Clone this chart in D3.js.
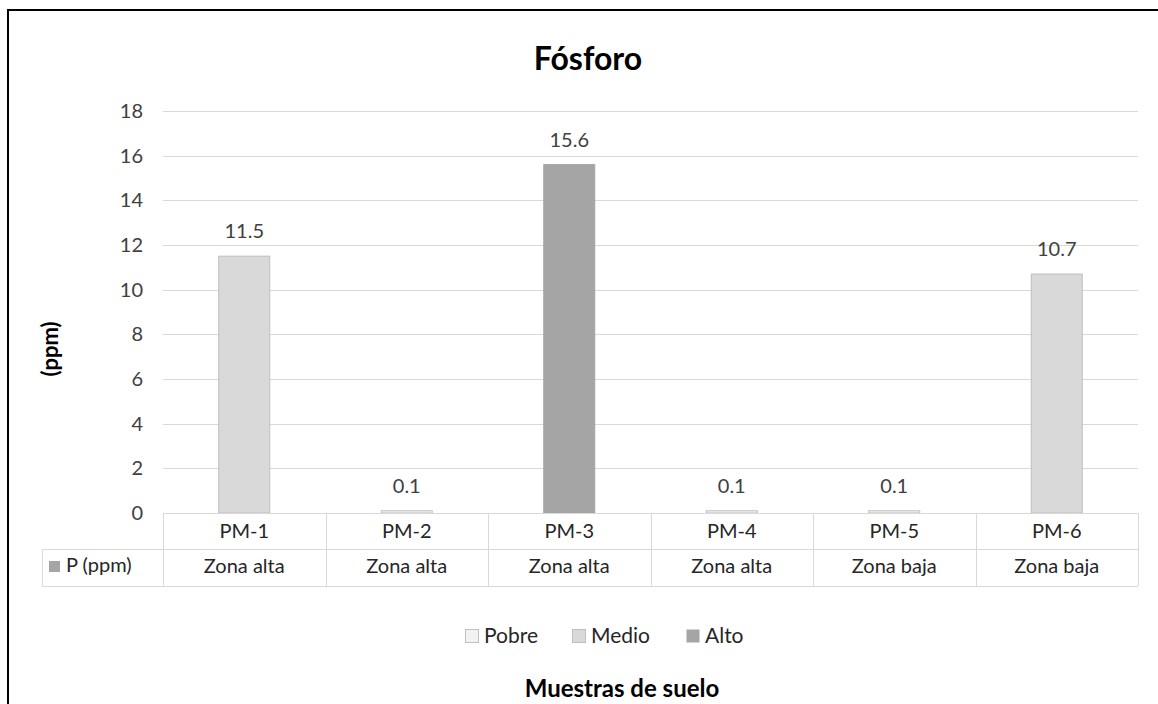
<!DOCTYPE html>
<html>
<head>
<meta charset="utf-8">
<script src="https://cdn.jsdelivr.net/npm/d3@7"></script>
<style>
  html, body { margin: 0; padding: 0; background: #fff; }
  svg { display: block; font-family: Lato, "Open Sans", "Noto Sans", sans-serif; }
</style>
</head>
<body>
<svg id="chart" width="1158" height="704"></svg>
<script>
// Phosphorus content per soil sample
const samples = ["PM-1", "PM-2", "PM-3", "PM-4", "PM-5", "PM-6"];
const zones = ["Zona alta", "Zona alta", "Zona alta", "Zona alta", "Zona baja", "Zona baja"];
const phosphorus = [11.5, 0.1, 15.6, 0.1, 0.1, 10.7];
const levels = ["Medio", "Pobre", "Alto", "Pobre", "Pobre", "Medio"];
const levelNames = ["Pobre", "Medio", "Alto"];
const yTicks = [0, 2, 4, 6, 8, 10, 12, 14, 16, 18];

const fills = { Pobre: "#f2f2f2", Medio: "#d9d9d9", Alto: "#a5a5a5" };
const strokes = { Pobre: "#bfbfbf", Medio: "#bfbfbf", Alto: "#a5a5a5" };
const textSize = 20;

const svg = d3.select("#chart");

// outer frame (top and left edges visible)
svg.append("path")
  .attr("d", "M8,1000 L8,10 L1200,10")
  .attr("fill", "none").attr("stroke", "#000").attr("stroke-width", 2);

const plot = { left: 163, right: 1138, top: 111, bottom: 513 };

const x = d3.scaleBand().domain(samples).range([plot.left, plot.right]).padding(0);
const y = d3.scaleLinear().domain([0, 18]).range([plot.bottom, plot.top]);

// horizontal gridlines
svg.append("g").selectAll("line").data(yTicks.filter(t => t > 0)).join("line")
  .attr("x1", plot.left).attr("x2", plot.right)
  .attr("y1", d => Math.round(y(d)) + 0.5).attr("y2", d => Math.round(y(d)) + 0.5)
  .attr("stroke", "#d9d9d9").attr("stroke-width", 1);

// y axis labels
const yAxis = svg.append("g").attr("transform", `translate(${plot.left - 20},0)`)
  .call(d3.axisLeft(y).tickValues(yTicks).tickSize(0).tickPadding(0));
yAxis.select(".domain").remove();
yAxis.selectAll("text")
  .attr("font-family", "Lato, 'Open Sans', sans-serif")
  .attr("font-size", textSize).attr("fill", "#404040");

// bars
const barW = x.bandwidth() * 0.32;
const data = samples.map((s, i) => ({ s, v: phosphorus[i], lvl: levels[i] }));
svg.append("g").selectAll("rect").data(data).join("rect")
  .attr("x", d => x(d.s) + (x.bandwidth() - barW) / 2 + 0.5)
  .attr("y", d => y(d.v))
  .attr("width", barW - 1)
  .attr("height", d => y(0) - y(d.v))
  .attr("fill", d => fills[d.lvl])
  .attr("stroke", d => strokes[d.lvl]).attr("stroke-width", 1);

// value labels
svg.append("g").selectAll("text").data(data).join("text")
  .attr("x", d => x(d.s) + x.bandwidth() / 2)
  .attr("y", d => y(d.v) - 18)
  .attr("text-anchor", "middle")
  .attr("font-size", textSize).attr("fill", "#404040")
  .text(d => d3.format(".1f")(d.v));

// data table below the axis
const rowH = 36;
const tableLeft = 42;
const tg = svg.append("g").attr("stroke", "#d9d9d9").attr("stroke-width", 1);
const rows = [plot.bottom, plot.bottom + rowH, plot.bottom + 2 * rowH + 1];
tg.append("line").attr("x1", plot.left).attr("x2", plot.right).attr("y1", rows[0] + 0.5).attr("y2", rows[0] + 0.5);
tg.append("line").attr("x1", tableLeft).attr("x2", plot.right).attr("y1", rows[1] + 0.5).attr("y2", rows[1] + 0.5);
tg.append("line").attr("x1", tableLeft).attr("x2", plot.right).attr("y1", rows[2] + 0.5).attr("y2", rows[2] + 0.5);
tg.selectAll("line.v").data(samples.concat(["end"])).join("line").attr("class", "v")
  .attr("x1", (d, i) => Math.round(plot.left + i * x.bandwidth()) + 0.5)
  .attr("x2", (d, i) => Math.round(plot.left + i * x.bandwidth()) + 0.5)
  .attr("y1", rows[0]).attr("y2", rows[2]);
tg.append("line").attr("x1", tableLeft + 0.5).attr("x2", tableLeft + 0.5).attr("y1", rows[1]).attr("y2", rows[2]);

svg.append("g").selectAll("text").data(samples).join("text")
  .attr("x", d => x(d) + x.bandwidth() / 2)
  .attr("y", rows[0] + 25)
  .attr("text-anchor", "middle").attr("font-size", textSize).attr("fill", "#262626")
  .text(d => d);

svg.append("g").selectAll("text").data(zones).join("text")
  .attr("x", (d, i) => x(samples[i]) + x.bandwidth() / 2)
  .attr("y", rows[1] + 24)
  .attr("text-anchor", "middle").attr("font-size", textSize).attr("fill", "#262626")
  .text(d => d);

// series key in the table
svg.append("rect").attr("x", 49).attr("y", rows[1] + 12).attr("width", 11).attr("height", 11).attr("fill", "#a5a5a5");
svg.append("text").attr("x", 66).attr("y", rows[1] + 23)
  .attr("font-size", textSize).attr("fill", "#262626").text("P (ppm)");

// legend
const legendX = [465, 572, 686];
const lg = svg.append("g").selectAll("g").data(levelNames).join("g")
  .attr("transform", (d, i) => `translate(${legendX[i]},629)`);
lg.append("rect").attr("x", 0.5).attr("y", 0.5).attr("width", 13).attr("height", 13)
  .attr("fill", d => fills[d]).attr("stroke", d => d === "Alto" ? "none" : "#bfbfbf");
lg.append("text").attr("x", 19).attr("y", 14)
  .attr("font-size", 21).attr("fill", "#262626").text(d => d);

// titles
svg.append("text").attr("x", 588).attr("y", 70)
  .attr("text-anchor", "middle").attr("font-size", 32).attr("font-weight", "bold")
  .attr("fill", "#000").text("Fósforo");

svg.append("text").attr("transform", "translate(58,349) rotate(-90)")
  .attr("text-anchor", "middle").attr("font-size", 22).attr("font-weight", "bold")
  .attr("fill", "#000").text("(ppm)");

svg.append("text").attr("x", 622).attr("y", 697)
  .attr("text-anchor", "middle").attr("font-size", 24).attr("font-weight", "bold")
  .attr("fill", "#000").text("Muestras de suelo");
</script>
</body>
</html>
